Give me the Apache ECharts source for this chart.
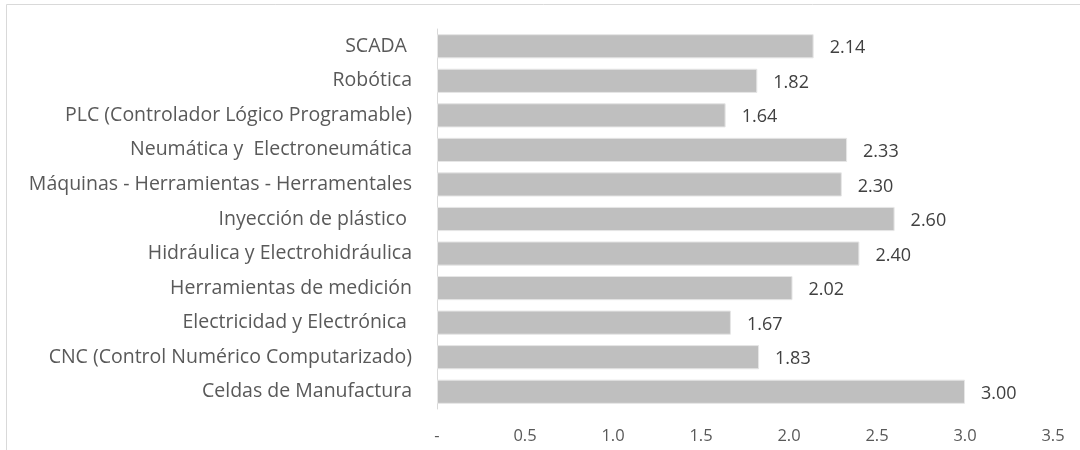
<!DOCTYPE html>
<html>
<head>
<meta charset="utf-8">
<script src="https://cdn.jsdelivr.net/npm/echarts@6/dist/echarts.min.js"></script>
<style>
  html, body { margin: 0; padding: 0; background: #fff; }
  #chart { width: 1080px; height: 450px; }
</style>
</head>
<body>
<div id="chart"></div>
<script>
// categories, top to bottom as shown
const categories = [
  'SCADA ',
  'Robótica',
  'PLC (Controlador Lógico Programable)',
  'Neumática y  Electroneumática',
  'Máquinas - Herramientas - Herramentales',
  'Inyección de plástico ',
  'Hidráulica y Electrohidráulica',
  'Herramientas de medición',
  'Electricidad y Electrónica ',
  'CNC (Control Numérico Computarizado)',
  'Celdas de Manufactura'
];
const values = [2.14, 1.82, 1.64, 2.33, 2.30, 2.60, 2.40, 2.02, 1.67, 1.83, 3.00];
const xTicks = ['-', '0.5', '1.0', '1.5', '2.0', '2.5', '3.0', '3.5'];

const chart = echarts.init(document.getElementById('chart'));
const font = '"Open Sans", sans-serif';

chart.setOption({
  animation: false,
  graphic: [{
    type: 'rect',
    shape: { x: 6.5, y: 4.5, width: 1100, height: 500 },
    style: { fill: 'none', stroke: '#d9d9d9', lineWidth: 1 },
    silent: true
  }],
  grid: { left: 437, right: 27, top: 29, bottom: 41 },
  xAxis: {
    type: 'value',
    min: 0,
    max: 3.5,
    interval: 0.5,
    axisLine: { show: false },
    axisTick: { show: false },
    splitLine: { show: false },
    axisLabel: {
      margin: 19,
      color: '#595959',
      fontFamily: font,
      fontSize: 16.5,
      formatter: v => xTicks[Math.round(v / 0.5)]
    }
  },
  yAxis: {
    type: 'category',
    inverse: true,
    data: categories,
    axisLine: { show: true, lineStyle: { color: '#d9d9d9', width: 1 } },
    axisTick: { show: false },
    axisLabel: {
      margin: 25,
      color: '#595959',
      fontFamily: font,
      fontSize: 19.5
    }
  },
  series: [{
    type: 'bar',
    data: values,
    barCategoryGap: '30%',
    itemStyle: { color: '#bfbfbf', borderColor: '#e6e6e6', borderWidth: 1 },
    label: {
      show: true,
      position: 'right',
      distance: 16,
      offset: [0, 2],
      color: '#404040',
      fontFamily: font,
      fontSize: 18,
      formatter: p => p.value.toFixed(2)
    }
  }]
});
</script>
</body>
</html>
